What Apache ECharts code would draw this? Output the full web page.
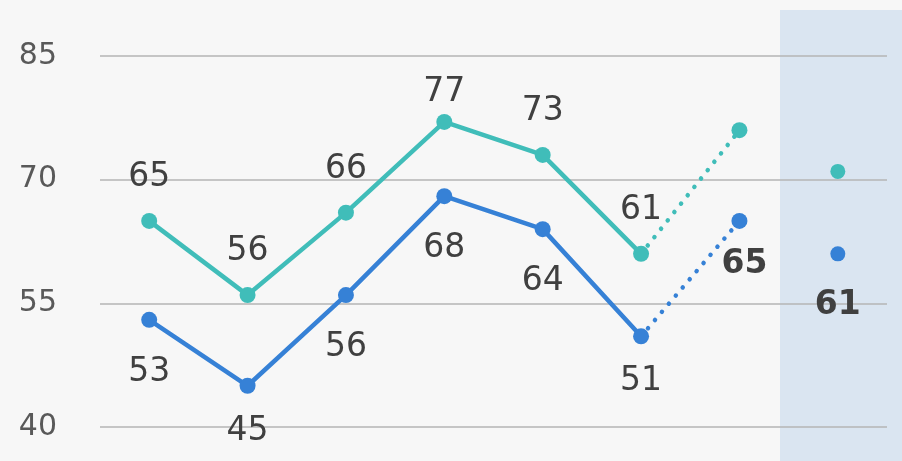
<!DOCTYPE html>
<html>
<head>
<meta charset="utf-8">
<script src="https://cdn.jsdelivr.net/npm/echarts@6/dist/echarts.min.js"></script>
<style>
html,body{margin:0;padding:0;background:#f7f7f7;}
#main{width:902px;height:461px;}
</style>
</head>
<body>
<div id="main"></div>
<script>
// 8 categories, the last one is the shaded column
var categories = ['1', '2', '3', '4', '5', '6', '7', '8'];
var yTicks = [40, 55, 70, 85];

// teal line
var tealValues = [65, 56, 66, 77, 73, 61];
var tealNext = 76;     // dotted continuation
var tealLast = 71;     // dot in shaded column

// blue line
var blueValues = [53, 45, 56, 68, 64, 51];
var blueNext = 65;
var blueLast = 61;

var teal = '#40bdb9';
var blue = '#3681d6';
var labelColor = '#404040';

function pad(arr, len){
  var out = arr.slice();
  while(out.length < len) out.push(null);
  return out;
}
function dotted(last, next){
  var out = [];
  for(var i = 0; i < categories.length; i++) out.push(null);
  out[5] = last;
  out[6] = next;
  return out;
}
function single(v){
  var out = [];
  for(var i = 0; i < categories.length; i++) out.push(null);
  out[7] = v;
  return out;
}

// some labels sit closer to their point
var tealSolid = pad(tealValues, 8).map(function(v, i){
  if(i === 3) return {value: v, label: {distance: 5}};
  return v;
});
var blueSolid = pad(blueValues, 8).map(function(v, i){
  if(i === 1 || i === 5) return {value: v, label: {distance: 21}};
  return v;
});

var myChart = echarts.init(document.getElementById('main'));
var baseLabel = {
  show: true,
  fontFamily: 'DejaVu Sans',
  fontSize: 33,
  color: labelColor
};
var dotLine = [0.1, 10.6];
var option = {
  backgroundColor: '#f7f7f7',
  animation: false,
  graphic: [{
    type: 'rect',
    z: -10,
    shape: {x: 780, y: 10, width: 122, height: 451},
    style: {fill: '#dae5f1'}
  }],
  grid: {left: 100, right: 15, top: 56, bottom: 34},
  xAxis: {
    type: 'category',
    data: categories,
    boundaryGap: true,
    axisLine: {show: false},
    axisTick: {show: false},
    axisLabel: {show: false}
  },
  yAxis: {
    type: 'value',
    min: yTicks[0],
    max: yTicks[yTicks.length - 1],
    interval: 15,
    axisLine: {show: false},
    axisTick: {show: false},
    axisLabel: {
      fontFamily: 'DejaVu Sans',
      fontSize: 30,
      color: '#595959',
      margin: 43
    },
    splitLine: {lineStyle: {color: '#b4b4b4', width: 1.5}}
  },
  series: [
    {
      name: 'teal',
      type: 'line',
      data: tealSolid,
      symbol: 'circle',
      symbolSize: 16,
      itemStyle: {color: teal},
      lineStyle: {color: teal, width: 4.5},
      label: Object.assign({position: 'top', distance: 19}, baseLabel),
      z: 3
    },
    {
      name: 'teal dotted',
      type: 'line',
      data: dotted(tealValues[5], tealNext),
      symbol: 'circle',
      symbolSize: function(v, p){ return p.dataIndex === 6 ? 16 : 0; },
      itemStyle: {color: teal},
      lineStyle: {color: teal, width: 4.5, type: dotLine, cap: 'round'},
      z: 2
    },
    {
      name: 'teal last',
      type: 'line',
      data: single(tealLast),
      symbol: 'circle',
      symbolSize: 15,
      itemStyle: {color: teal},
      z: 3
    },
    {
      name: 'blue',
      type: 'line',
      data: blueSolid,
      symbol: 'circle',
      symbolSize: 16,
      itemStyle: {color: blue},
      lineStyle: {color: blue, width: 4.5},
      label: Object.assign({position: 'bottom', distance: 28}, baseLabel),
      z: 3
    },
    {
      name: 'blue dotted',
      type: 'line',
      data: dotted(blueValues[5], blueNext),
      symbol: 'circle',
      symbolSize: function(v, p){ return p.dataIndex === 6 ? 16 : 0; },
      itemStyle: {color: blue},
      lineStyle: {color: blue, width: 4.5, type: dotLine, cap: 'round'},
      label: Object.assign({}, baseLabel, {
        position: 'bottom', distance: 19, offset: [5, 0], fontWeight: 'bold',
        formatter: function(p){ return p.dataIndex === 6 ? p.value : ''; }
      }),
      z: 2
    },
    {
      name: 'blue last',
      type: 'line',
      data: single(blueLast),
      symbol: 'circle',
      symbolSize: 15,
      itemStyle: {color: blue},
      label: Object.assign({}, baseLabel, {position: 'bottom', distance: 28, fontWeight: 'bold'}),
      z: 3
    }
  ]
};
myChart.setOption(option);
window.addEventListener('resize', function(){
  myChart.resize();
});
</script>
</body>
</html>
